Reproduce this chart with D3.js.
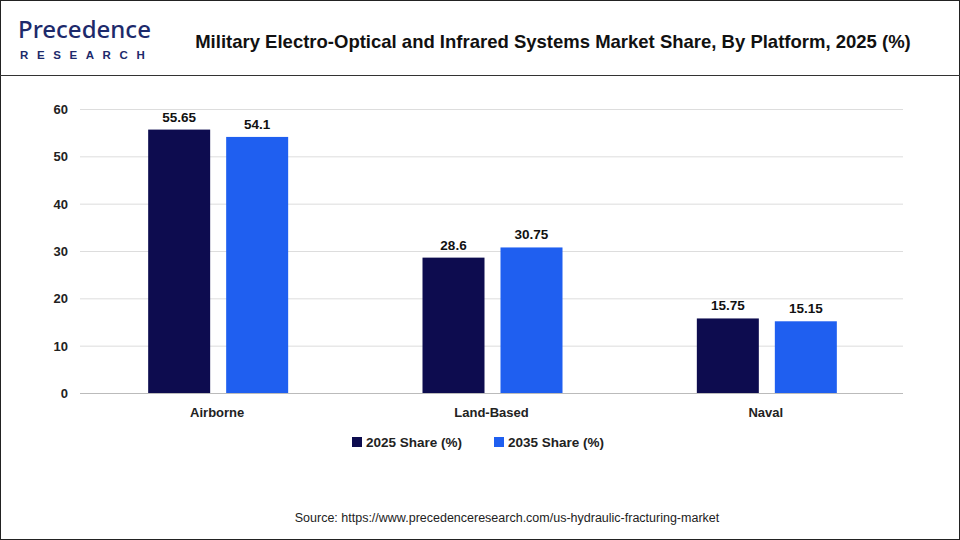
<!DOCTYPE html><html><head><meta charset="utf-8">
<script src="https://cdn.jsdelivr.net/npm/d3@7"></script>
<style>body{margin:0;background:#fff}text{font-family:"Liberation Sans",Arial,sans-serif}</style></head><body>
<svg id="c" width="960" height="540"></svg>
<script>
const categories=["Airborne","Land-Based","Naval"];
const series=["2025 Share (%)","2035 Share (%)"];
const values2025=[55.65,28.6,15.75];
const values2035=[54.1,30.75,15.15];
const labels2025=["55.65","28.6","15.75"];
const labels2035=["54.1","30.75","15.15"];
const yTicks=[0,10,20,30,40,50,60];
const colors=["#0d0c4f","#1f5ff0"];
const svg=d3.select("#c");
svg.append("rect").attr("x",0.5).attr("y",0.5).attr("width",959).attr("height",539).attr("fill","#fff").attr("stroke","#222");
svg.append("line").attr("x1",0).attr("x2",960).attr("y1",75.5).attr("y2",75.5).attr("stroke","#333");
const lg=svg.append("g");
lg.append("text").attr("x",18).attr("y",38).attr("font-size",24).attr("fill","#1d2a6b").attr("style","font-family:'Noto Sans',sans-serif;font-weight:500").text("Precedence");
lg.append("text").attr("x",20).attr("y",59).attr("font-size",11.5).attr("font-weight",700).attr("fill","#1d2a6b").attr("letter-spacing",8.6).text("RESEARCH");
svg.append("text").attr("x",553).attr("y",48).attr("text-anchor","middle").attr("font-size",18.5).attr("font-weight",700).attr("fill","#111").text("Military Electro-Optical and Infrared Systems Market Share, By Platform, 2025 (%)");
const x=d3.scaleBand().domain(categories).range([80,903]);
const y=d3.scaleLinear().domain([0,60]).range([393,109]);
const g=svg.append("g");
g.selectAll("line.gr").data(yTicks).join("line").attr("x1",80).attr("x2",903).attr("y1",d=>y(d)+0.5).attr("y2",d=>y(d)+0.5).attr("stroke",d=>d===0?"#bbb":"#ddd");
g.selectAll("text.yt").data(yTicks).join("text").attr("x",68).attr("y",d=>y(d)+5).attr("text-anchor","end").attr("font-size",13).attr("font-weight",700).attr("fill","#222").text(d=>d);
g.selectAll("text.xt").data(categories).join("text").attr("x",d=>x(d)+x.bandwidth()/2).attr("y",417).attr("text-anchor","middle").attr("font-size",13).attr("font-weight",700).attr("fill","#222").text(d=>d);
[[values2025,labels2025,-69],[values2035,labels2035,9]].forEach(([vals,labs,off],si)=>{
 categories.forEach((c,i)=>{
  const cx=x(c)+x.bandwidth()/2+off;
  g.append("rect").attr("x",cx).attr("width",62).attr("y",y(vals[i])).attr("height",y(0)-y(vals[i])).attr("fill",colors[si]);
  g.append("text").attr("x",cx+31).attr("y",y(vals[i])-8).attr("text-anchor","middle").attr("font-size",13.5).attr("font-weight",700).attr("fill","#111").text(labs[i]);
 });
});
const lx=[352,494];
series.forEach((s,i)=>{
 svg.append("rect").attr("x",lx[i]).attr("y",437).attr("width",10).attr("height",10).attr("fill",colors[i]);
 svg.append("text").attr("x",lx[i]+14).attr("y",447).attr("font-size",13.5).attr("font-weight",700).attr("fill","#222").text(s);
});
svg.append("text").attr("x",507).attr("y",522).attr("text-anchor","middle").attr("font-size",12.5).attr("fill","#222").text("Source: https://www.precedenceresearch.com/us-hydraulic-fracturing-market");
</script></body></html>
